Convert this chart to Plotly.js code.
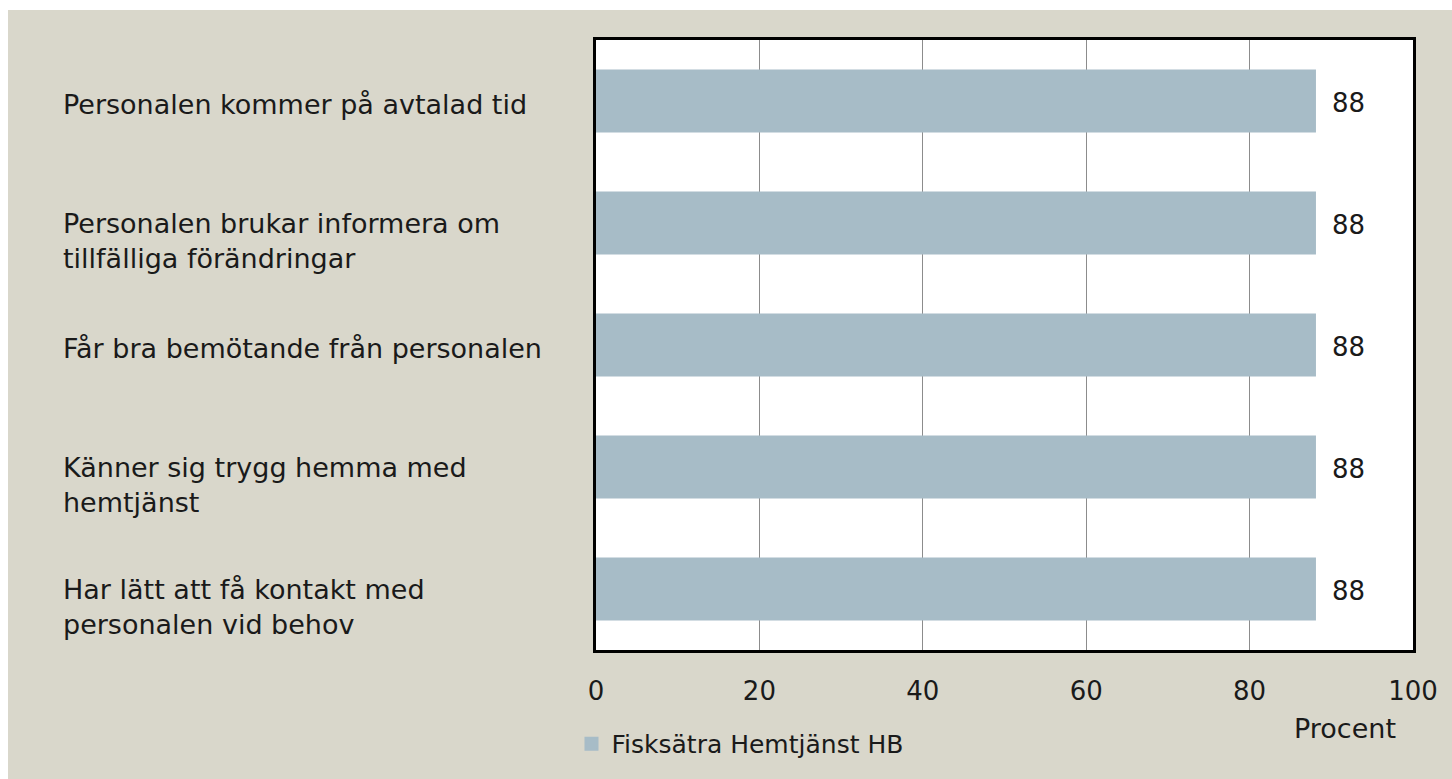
<!DOCTYPE html>
<html>
<head>
<meta charset="utf-8">
<script src="https://cdn.plot.ly/plotly-3.0.1.min.js"></script>
<style>
  html, body { margin: 0; padding: 0; background: #ffffff; }
  #chart { width: 1452px; height: 779px; }
</style>
</head>
<body>
<div id="chart"></div>
<script>
// ---- data ----
const categories = [
  "Personalen kommer på avtalad tid",
  "Personalen brukar informera om tillfälliga förändringar",
  "Får bra bemötande från personalen",
  "Känner sig trygg hemma med hemtjänst",
  "Har lätt att få kontakt med personalen vid behov"
];
const categoryLabels = [
  "Personalen kommer på avtalad tid",
  "Personalen brukar informera om<br>tillfälliga förändringar",
  "Får bra bemötande från personalen",
  "Känner sig trygg hemma med<br>hemtjänst",
  "Har lätt att få kontakt med<br>personalen vid behov"
];
const values = [88, 88, 88, 88, 88];
const seriesName = "Fisksätra Hemtjänst HB";
const xTickValues = [0, 20, 40, 60, 80, 100];
const xAxisTitle = "Procent";

// ---- styles ----
const FONT = "DejaVu Sans";
const TEXT = "#1a1a1a";
const BEIGE = "#d9d7cb";
const BAR = "#a7bcc7";

const trace = {
  type: "bar",
  orientation: "h",
  name: seriesName,
  x: values,
  y: categories,
  marker: { color: BAR, line: { color: BAR, width: 2 } },
  hoverinfo: "x+y",
  showlegend: true
};

const annotations = [];
categories.forEach((c, i) => {
  const lines = categoryLabels[i].split("<br>").length;
  annotations.push({
    xref: "paper", yref: "y",
    x: -0.6549, y: c,
    xanchor: "left", yanchor: "middle",
    yshift: lines > 1 ? -18 : -3,
    align: "left",
    text: categoryLabels[i],
    showarrow: false,
    font: { family: FONT, size: 27, color: TEXT }
  });
  annotations.push({
    xref: "x", yref: "y",
    x: values[i], y: c,
    xanchor: "left", yanchor: "middle",
    xshift: 15, yshift: -2,
    text: String(values[i]),
    showarrow: false,
    font: { family: FONT, size: 26, color: TEXT }
  });
});
annotations.push({
  xref: "paper", yref: "paper",
  x: 0.9168, y: -0.1287,
  xanchor: "center", yanchor: "middle",
  text: xAxisTitle,
  showarrow: false,
  font: { family: FONT, size: 27, color: TEXT }
});

const layout = {
  width: 1452,
  height: 779,
  margin: { l: 596, r: 39, t: 40, b: 129, pad: 0 },
  paper_bgcolor: BEIGE,
  plot_bgcolor: "#ffffff",
  bargap: 0.5,
  showlegend: true,
  legend: {
    x: -0.03, xanchor: "left",
    y: -0.154, yanchor: "middle",
    bgcolor: "rgba(0,0,0,0)",
    font: { family: FONT, size: 25, color: TEXT },
    orientation: "h"
  },
  xaxis: {
    range: [0, 100],
    tickvals: xTickValues,
    ticktext: xTickValues.map(String),
    showgrid: true,
    gridcolor: "#8c8c8c",
    gridwidth: 1,
    zeroline: false,
    showline: true,
    linecolor: "#000000",
    linewidth: 3,
    mirror: true,
    ticks: "",
    ticklabelstandoff: 16,
    tickfont: { family: FONT, size: 26, color: TEXT },
    fixedrange: true
  },
  yaxis: {
    type: "category",
    categoryorder: "array",
    categoryarray: categories,
    autorange: "reversed",
    showticklabels: false,
    showgrid: false,
    zeroline: false,
    showline: true,
    linecolor: "#000000",
    linewidth: 3,
    mirror: true,
    ticks: "",
    fixedrange: true
  },
  shapes: [
    { type: "rect", xref: "paper", yref: "paper", x0: -1, x1: 2, y0: 1.0492, y1: 2,
      fillcolor: "#ffffff", line: { width: 0 }, layer: "above" },
    { type: "rect", xref: "paper", yref: "paper", x0: -1, x1: -0.7197, y0: -1, y1: 2,
      fillcolor: "#ffffff", line: { width: 0 }, layer: "above" }
  ],
  annotations: annotations
};

Plotly.newPlot("chart", [trace], layout, { displayModeBar: false, staticPlot: true });
</script>
</body>
</html>
